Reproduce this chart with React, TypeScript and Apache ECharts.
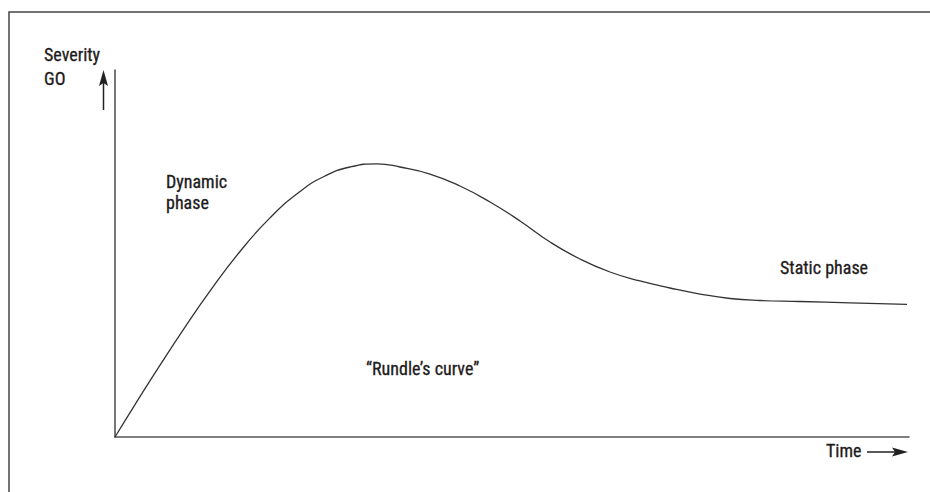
import React, { useEffect, useRef } from "react";
import * as echarts from "echarts";

// Curve (time, severity) in axis units 0..100
const timeValues = [
  0, 2.52, 5.67, 8.82, 11.96, 15.74, 19.52, 23.3, 26.45, 29.6, 33.0,
  35.89, 39.67, 43.45, 47.23, 51.01, 54.79, 58.56, 62.34, 66.12, 69.9, 73.68, 77.46, 81.23, 86.27, 92.57, 99.75,
];
const severityValues = [
  0, 8.83, 19.59, 29.95, 39.75, 50.54, 59.7, 66.89, 71.12, 73.57, 74.44,
  73.57, 71.66, 68.39, 64.03, 58.86, 53.13, 48.5, 44.96, 42.51, 40.6, 38.96, 37.74, 37.19, 36.92, 36.57, 36.16,
];

const yAxisTitle = ["Severity", "GO"];
const xAxisTitle = "Time";
const dynamicLabel = ["Dynamic", "phase"];
const staticLabel = "Static phase";
const curveLabel = "\u201cRundle\u2019s curve\u201d";

const FONT = '18px "Liberation Sans Narrow", "Roboto Condensed", "DejaVu Sans Condensed", "Arial Narrow", sans-serif';
const TEXT_COLOR = "#1e1a1b";

export default function App() {
  const ref = useRef<HTMLDivElement>(null);

  useEffect(() => {
    if (!ref.current) return;
    const chart = echarts.init(ref.current, undefined, { renderer: "svg" });
    const data = timeValues.map((t, i) => [t, severityValues[i]]);
    const txt = (text: string, x: number, y: number) => ({
      type: "text",
      x,
      y,
      style: {
        text,
        font: FONT,
        fill: TEXT_COLOR,
        stroke: TEXT_COLOR,
        lineWidth: 0.3,
        verticalAlign: "middle",
        align: "left",
      },
    });
    chart.setOption({
      animation: false,
      backgroundColor: "#ffffff",
      grid: { left: 115, right: 21, top: 70, bottom: 55 },
      xAxis: {
        type: "value",
        min: 0,
        max: 100,
        axisLine: { show: true, lineStyle: { color: "#555", width: 1.6 } },
        axisTick: { show: false },
        axisLabel: { show: false },
        splitLine: { show: false },
      },
      yAxis: {
        type: "value",
        min: 0,
        max: 100,
        axisLine: { show: true, lineStyle: { color: "#555", width: 1.6 } },
        axisTick: { show: false },
        axisLabel: { show: false },
        splitLine: { show: false },
      },
      series: [
        {
          type: "line",
          data,
          smooth: 0.5,
          symbol: "none",
          lineStyle: { color: "#333", width: 1.3 },
        },
      ],
      graphic: [
        {
          type: "rect",
          shape: { x: 9, y: 12, width: 1000, height: 600 },
          style: { fill: "none", stroke: "#444", lineWidth: 1.5 },
        },
        txt(yAxisTitle[0], 44, 54),
        txt(yAxisTitle[1], 44, 78.5),
        txt(dynamicLabel[0], 166, 181.5),
        txt(dynamicLabel[1], 166, 202.5),
        txt(curveLabel, 366, 368.5),
        txt(staticLabel, 780, 267),
        txt(xAxisTitle, 826, 450.5),
        {
          type: "line",
          shape: { x1: 103.5, y1: 80, x2: 103.5, y2: 110 },
          style: { stroke: "#222", lineWidth: 1.5 },
        },
        {
          type: "polygon",
          shape: { points: [[103.5, 70], [99, 86], [103.5, 83], [108, 86]] },
          style: { fill: "#222" },
        },
        {
          type: "line",
          shape: { x1: 867, y1: 452, x2: 899, y2: 452 },
          style: { stroke: "#222", lineWidth: 1.5 },
        },
        {
          type: "polygon",
          shape: { points: [[908, 452], [892, 447.5], [895, 452], [892, 456.5]] },
          style: { fill: "#222" },
        },
      ],
    });
    return () => chart.dispose();
  }, []);

  return (
    <div
      ref={ref}
      style={{ position: "fixed", left: 0, top: 0, width: 930, height: 492, background: "#fff" }}
    />
  );
}
